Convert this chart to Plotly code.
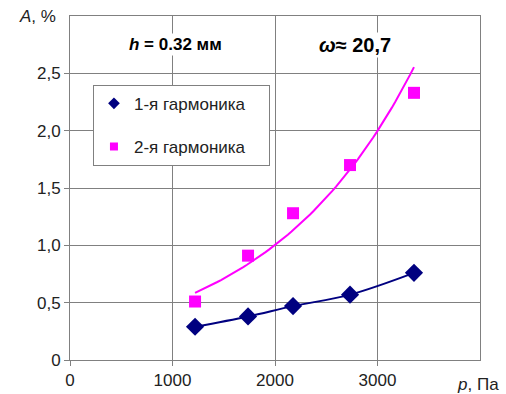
import numpy as np
import plotly.graph_objects as go

p_vals = [1220, 1737, 2176, 2732, 3356]
h1_vals = [0.29, 0.38, 0.47, 0.57, 0.76]
h2_vals = [0.51, 0.91, 1.28, 1.70, 2.33]

x_ticks = [0, 1000, 2000, 3000]
x_ticklabels = ["0", "1000", "2000", "3000"]
y_ticks = [0, 0.5, 1.0, 1.5, 2.0, 2.5]
y_ticklabels = ["0", "0,5", "1,0", "1,5", "2,0", "2,5"]
series_names = ["1-я гармоника", "2-я гармоника"]

FONT = "Liberation Sans, Arial, sans-serif"
NAVY = "#000080"
MAG = "#FF00FF"
GRID = "#808080"

# exponential trendline for 2nd harmonic
b, lna = np.polyfit(p_vals, np.log(h2_vals), 1)
xt = np.linspace(p_vals[0], p_vals[-1], 60)
yt = np.exp(lna + b * xt)

fig = go.Figure()
fig.add_trace(go.Scatter(x=xt, y=yt, mode="lines", line=dict(color=MAG, width=2),
                         showlegend=False, hoverinfo="skip"))
fig.add_trace(go.Scatter(x=p_vals, y=h1_vals, mode="lines", line=dict(color=NAVY, width=2, shape="spline"),
                         showlegend=False, hoverinfo="skip"))
fig.add_trace(go.Scatter(x=p_vals, y=h1_vals, mode="markers", name=series_names[0],
                         showlegend=False,
                         marker=dict(symbol="diamond", size=14, color=NAVY)))
fig.add_trace(go.Scatter(x=p_vals, y=h2_vals, mode="markers", name=series_names[1],
                         showlegend=False,
                         marker=dict(symbol="square", size=12, color=MAG)))
# legend entries (small markers as in the reference)
pad = "\u00a0" * 4
fig.add_trace(go.Scatter(x=[None], y=[None], mode="markers", name=series_names[0] + pad,
                         legendgroup="a",
                         marker=dict(symbol="diamond", size=9, color=NAVY)))
fig.add_trace(go.Scatter(x=[None], y=[None], mode="markers", name=series_names[1] + pad,
                         legendgroup="b",
                         marker=dict(symbol="square", size=8, color=MAG)))

axis_common = dict(showgrid=True, gridcolor=GRID, gridwidth=1,
                   showline=True, linecolor=GRID, linewidth=1, mirror=True,
                   ticks="outside", ticklen=5, tickcolor=GRID, automargin=False,
                   zeroline=False, tickfont=dict(family=FONT, size=17, color="#222"))

fig.update_layout(
    width=506, height=394,
    margin=dict(l=70, r=26, t=16, b=34),
    paper_bgcolor="white", plot_bgcolor="white",
    xaxis=dict(range=[0, 4000], tickvals=x_ticks, ticktext=x_ticklabels, **axis_common),
    yaxis=dict(range=[0, 3], tickvals=y_ticks, ticktext=y_ticklabels, **axis_common),
    legend=dict(x=0.056, y=0.80, xanchor="left", yanchor="top",
                bgcolor="white", bordercolor=GRID, borderwidth=1,
                font=dict(family=FONT, size=17, color="#222"),
                tracegroupgap=18, itemsizing="trace", itemwidth=30),
    font=dict(family=FONT),
    showlegend=True,
)

fig.add_annotation(xref="paper", yref="paper", x=-0.03, y=1.0, xanchor="right", yanchor="middle",
                   text="<i>A</i>, %", showarrow=False,
                   font=dict(family=FONT, size=17, color="#222"))
fig.add_annotation(xref="paper", yref="paper", x=1.05, y=-0.07, xanchor="right", yanchor="middle",
                   text="<i>p</i>, Па", showarrow=False,
                   font=dict(family=FONT, size=17, color="#222"))
fig.add_annotation(xref="x", yref="y", x=1030, y=2.75, xanchor="center", yanchor="middle",
                   text="<b><i>h</i> = 0.32 мм</b>", showarrow=False, bgcolor="white",
                   font=dict(family=FONT, size=17, color="black"))
fig.add_annotation(xref="x", yref="y", x=2780, y=2.75, xanchor="center", yanchor="middle",
                   text="<b><i>ω</i>≈ 20,7</b>", showarrow=False, bgcolor="white",
                   font=dict(family=FONT, size=20, color="black"))

fig.write_html("out.html")
